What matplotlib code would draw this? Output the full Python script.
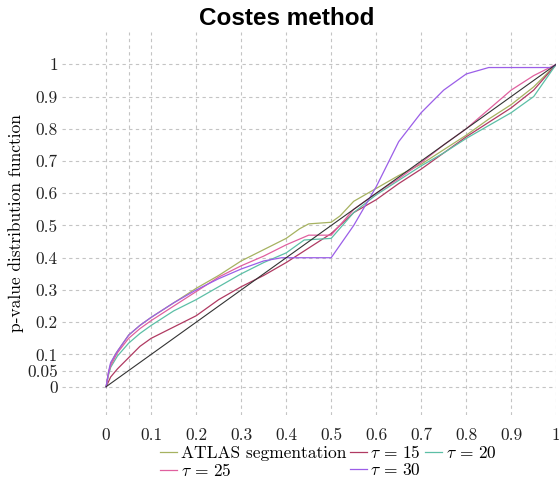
import numpy as np
import matplotlib
matplotlib.use("Agg")
import matplotlib.pyplot as plt

# p-value distribution curves
atlas_x = [0, 0.005, 0.01, 0.02, 0.035, 0.05, 0.075, 0.1, 0.15, 0.2, 0.25, 0.3, 0.35, 0.4, 0.43, 0.45,
           0.5, 0.52, 0.55, 0.6, 0.65, 0.7, 0.75, 0.8, 0.85, 0.9, 0.95, 1]
atlas_y = [0, 0.04, 0.07, 0.1, 0.13, 0.16, 0.19, 0.215, 0.26, 0.305, 0.345, 0.39, 0.425, 0.46, 0.49, 0.505,
           0.51, 0.53, 0.575, 0.615, 0.655, 0.69, 0.735, 0.78, 0.83, 0.875, 0.93, 1]

t15_x = [0, 0.005, 0.01, 0.025, 0.05, 0.075, 0.1, 0.15, 0.2, 0.25, 0.3, 0.35, 0.4, 0.45, 0.5, 0.55,
         0.6, 0.65, 0.7, 0.75, 0.8, 0.85, 0.9, 0.95, 1]
t15_y = [0, 0.015, 0.03, 0.055, 0.09, 0.125, 0.15, 0.185, 0.22, 0.27, 0.31, 0.345, 0.385, 0.43, 0.475, 0.54,
         0.58, 0.63, 0.675, 0.725, 0.775, 0.82, 0.865, 0.92, 1]

t20_x = [0, 0.005, 0.01, 0.025, 0.05, 0.075, 0.1, 0.15, 0.2, 0.25, 0.3, 0.35, 0.4, 0.44, 0.5, 0.55,
         0.6, 0.65, 0.7, 0.75, 0.8, 0.85, 0.9, 0.95, 1]
t20_y = [0, 0.035, 0.06, 0.095, 0.135, 0.165, 0.19, 0.235, 0.27, 0.31, 0.35, 0.385, 0.415, 0.455, 0.46, 0.54,
         0.595, 0.64, 0.685, 0.725, 0.77, 0.81, 0.85, 0.9, 1]

t25_x = [0, 0.005, 0.01, 0.025, 0.05, 0.075, 0.1, 0.15, 0.2, 0.25, 0.3, 0.35, 0.4, 0.45, 0.5, 0.55,
         0.6, 0.65, 0.7, 0.75, 0.8, 0.85, 0.9, 0.95, 1]
t25_y = [0, 0.04, 0.065, 0.105, 0.15, 0.18, 0.205, 0.25, 0.295, 0.34, 0.375, 0.405, 0.44, 0.47, 0.47, 0.55,
         0.6, 0.645, 0.695, 0.75, 0.8, 0.86, 0.92, 0.965, 1]

t30_x = [0, 0.005, 0.01, 0.025, 0.05, 0.075, 0.1, 0.15, 0.2, 0.25, 0.3, 0.35, 0.39, 0.5, 0.52, 0.55,
         0.6, 0.65, 0.7, 0.75, 0.8, 0.85, 0.99, 1]
t30_y = [0, 0.045, 0.075, 0.11, 0.16, 0.19, 0.215, 0.26, 0.3, 0.335, 0.365, 0.39, 0.4, 0.4, 0.44, 0.5,
         0.62, 0.76, 0.85, 0.92, 0.97, 0.99, 0.99, 1]

ref_x = [0, 1]
ref_y = [0, 1]

xticks = [0, 0.05, 0.1, 0.2, 0.3, 0.4, 0.5, 0.6, 0.7, 0.8, 0.9, 1]
xticklabels = ["0", "", "0.1", "0.2", "0.3", "0.4", "0.5", "0.6", "0.7", "0.8", "0.9", "1"]
yticks = [0, 0.05, 0.1, 0.2, 0.3, 0.4, 0.5, 0.6, 0.7, 0.8, 0.9, 1]
yticklabels = ["0", "0.05", "0.1", "0.2", "0.3", "0.4", "0.5", "0.6", "0.7", "0.8", "0.9", "1"]

plt.rcParams["font.family"] = ["cmr10", "DejaVu Serif"]
plt.rcParams["mathtext.fontset"] = "cm"
plt.rcParams["axes.formatter.use_mathtext"] = True

fig = plt.figure(figsize=(5.59, 4.86), dpi=100)
ax = fig.add_axes([0.111, 0.146, 0.884, 0.788])

lw = 0.9
l_atlas, = ax.plot(atlas_x, atlas_y, color="#a6b260", lw=lw, label="ATLAS segmentation")
l15, = ax.plot(t15_x, t15_y, color="#b03a62", lw=lw, label=r"$\tau\,=\,15$")
l20, = ax.plot(t20_x, t20_y, color="#5cbfa6", lw=lw, label=r"$\tau\,=\,20$")
l25, = ax.plot(t25_x, t25_y, color="#e0609f", lw=lw, label=r"$\tau\,=\,25$")
l30, = ax.plot(t30_x, t30_y, color="#9b5ee8", lw=lw, label=r"$\tau\,=\,30$")
ax.plot(ref_x, ref_y, color="#333333", lw=0.8)

ax.set_xlim(-0.098, 1.0)
ax.set_ylim(-0.088, 1.1)
ax.set_xticks(xticks)
ax.set_xticklabels(xticklabels)
ax.set_yticks(yticks)
ax.set_yticklabels(yticklabels)
ax.tick_params(axis="both", length=0, labelsize=12.5, colors="#222222")
ax.tick_params(axis="x", pad=9)
ax.tick_params(axis="y", pad=3)
ax.grid(True, color="#c4c4c4", linestyle=(0, (3, 3)), linewidth=0.8)
ax.set_axisbelow(True)
for s in ax.spines.values():
    s.set_visible(False)

ax.set_ylabel("p-value distribution function", fontsize=12.5, labelpad=2)
fig.text(0.512, 0.962, "Costes method", ha="center", va="center",
         fontsize=17.5, fontweight="bold", family="Liberation Sans")

# legend in row-major order: ATLAS, t15, t20 / t25, t30
handles = [l_atlas, l25, l15, l30, l20]
fig.legend(handles, [h.get_label() for h in handles], loc="upper center",
           bbox_to_anchor=(0.587, 0.108), ncol=3, frameon=False, fontsize=12.5,
           handlelength=1.0, handletextpad=0.2, columnspacing=0.2, labelspacing=0.05,
           borderpad=0.1)

fig.savefig("out.png", dpi=100)
